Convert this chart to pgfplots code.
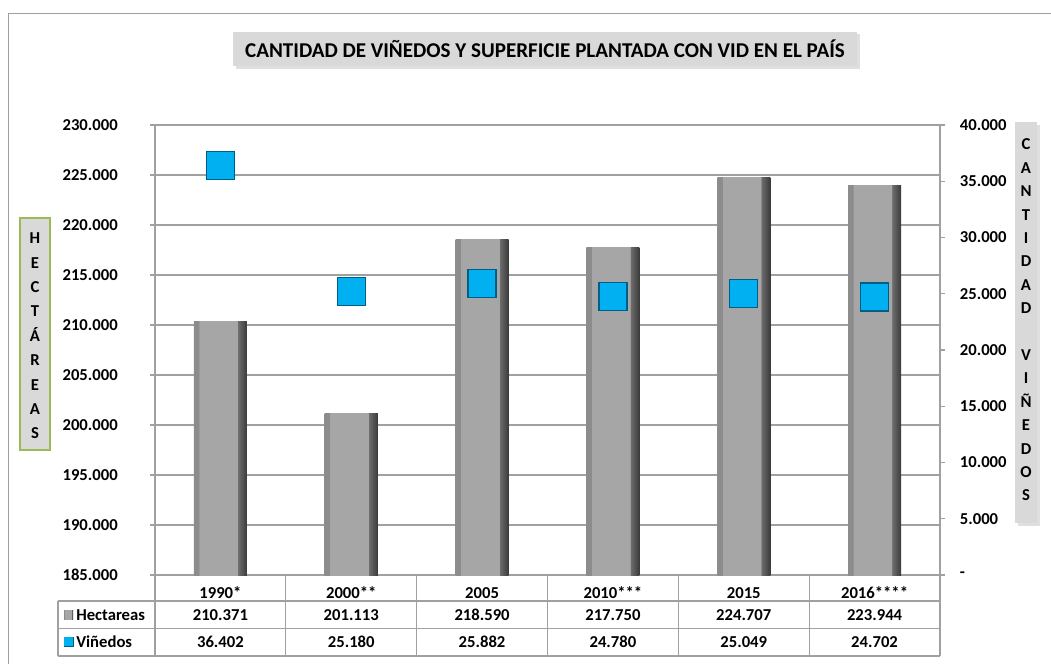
\documentclass[border=0pt]{standalone}
\usepackage{fontspec}
\setmainfont{Carlito}
\usepackage{pgfplots}
\pgfplotsset{compat=1.18}
\usetikzlibrary{shadows}
\definecolor{barL}{HTML}{8C8C8C}
\definecolor{barF}{HTML}{A6A6A6}
\definecolor{barM}{HTML}{6E6E6E}
\definecolor{barD}{HTML}{3A3A3A}
\definecolor{cyanF}{HTML}{00B0F0}
\definecolor{cyanD}{HTML}{005E86}
\definecolor{gridc}{HTML}{A0A0A0}
\definecolor{boxc}{HTML}{D9D9D9}
\definecolor{olivec}{HTML}{9BBB59}
\pgfdeclarehorizontalshading{barbev}{100bp}{color(0bp)=(barL); color(25bp)=(barL); color(29.5bp)=(barL); color(30bp)=(barF); color(66bp)=(barF); color(66.5bp)=(barM); color(75bp)=(barD); color(100bp)=(barD)}
\newcommand\tfont{\fontsize{12.5}{15}\selectfont\bfseries}
\pgfplotsset{barstyle/.style={ybar, bar width=39.75pt, bar shift=0pt, draw=none, mark=none, shade, shading=barbev}}

\begin{document}
\begin{tikzpicture}
\begin{scope}[x=0.75pt,y=-0.75pt]
\useasboundingbox (0,0) rectangle (1051,664);
\draw[gray!75, line width=0.75pt] (8,664) -- (8,13) -- (1051,13);
% title
\node[fill=boxc, drop shadow={opacity=0.25, shadow xshift=2pt, shadow yshift=-2pt}, minimum width=468pt, minimum height=26pt, inner sep=0pt, font=\fontsize{15.8}{18}\selectfont\bfseries] at (545,49) {CANTIDAD DE VIÑEDOS Y SUPERFICIE PLANTADA CON VID EN EL PAÍS};
% left label box
\draw[fill=boxc, draw=olivec, line width=1pt] (20,218) rectangle (50,450);
\node[align=center, inner sep=0pt, font=\fontsize{12.5}{18.3}\selectfont\bfseries] at (35,336) {H\\E\\C\\T\\Á\\R\\E\\A\\S};
% right label box
\fill[boxc, drop shadow={opacity=0.25, shadow xshift=2pt, shadow yshift=-2pt}] (1015,122) rectangle (1037,523);
\node[align=center, inner sep=0pt, font=\fontsize{12.5}{17.55}\selectfont\bfseries] at (1026,320) {C\\A\\N\\T\\I\\D\\A\\D\\~\\V\\I\\Ñ\\E\\D\\O\\S};
% table lines
\begin{scope}[gridc, line width=1pt]
\foreach \xx in {155,285.83,416.67,547.5,678.33,809.17,940} \draw (\xx,575) -- (\xx,656);
\draw (58,601) -- (940,601);
\draw (58,628.5) -- (940,628.5);
\draw (58,656) -- (940,656);
\draw (58,601) -- (58,656);
\end{scope}
% legend column
\shade[shading=barbev] (64,610) rectangle (73,619);
\node[anchor=base west, inner sep=0pt, font=\tfont] at (76,620) {Hectareas};
\fill[cyanF] (64,637) rectangle (73,646);
\draw[cyanD, line width=0.6pt] (73,637) -- (73,646) -- (64,646);
\node[anchor=base west, inner sep=0pt, font=\tfont] at (76,647) {Viñedos};
\end{scope}

\begin{axis}[
  at={(116.25pt,-431.25pt)}, anchor=south west,
  width=588.75pt, height=337.5pt, scale only axis,
  xmin=-0.5, xmax=5.5, ymin=185000, ymax=230000,
  ytick={185000,190000,...,230000},
  scaled y ticks=false,
  y tick label style={/pgf/number format/fixed, /pgf/number format/precision=0, /pgf/number format/1000 sep={.}},
  /pgf/number format/assume math mode=true,
  ytick pos=left, tick align=outside, major tick length=3.75pt,
  xtick={0,...,5},
  xticklabels={1990*,2000**,2005,2010***,2015,2016****},
  xtick style={draw=none},
  ymajorgrids, grid style={gridc, line width=1pt},
  axis line style={gridc, line width=1pt},
  tick style={gridc, line width=1pt},
  ticklabel style={font=\tfont, text=black},
  yticklabel style={anchor=east, inner sep=0pt, xshift=-24pt},
  xticklabel style={anchor=base, inner sep=0pt, yshift=-13.9pt},
  clip mode=individual,
]
\addplot[barstyle] coordinates {(0,210371)};
\addplot[barstyle] coordinates {(1,201113)};
\addplot[barstyle] coordinates {(2,218590)};
\addplot[barstyle] coordinates {(3,217750)};
\addplot[barstyle] coordinates {(4,224707)};
\addplot[barstyle] coordinates {(5,223944)};
\begin{scope}[font=\tfont, inner sep=0pt, anchor=base]
\node at (axis cs:0,180500) {210.371};
\node at (axis cs:1,180500) {201.113};
\node at (axis cs:2,180500) {218.590};
\node at (axis cs:3,180500) {217.750};
\node at (axis cs:4,180500) {224.707};
\node at (axis cs:5,180500) {223.944};
\node at (axis cs:0,177800) {36.402};
\node at (axis cs:1,177800) {25.180};
\node at (axis cs:2,177800) {25.882};
\node at (axis cs:3,177800) {24.780};
\node at (axis cs:4,177800) {25.049};
\node at (axis cs:5,177800) {24.702};
\end{scope}
\end{axis}

\begin{axis}[
  at={(116.25pt,-431.25pt)}, anchor=south west,
  width=588.75pt, height=337.5pt, scale only axis,
  xmin=-0.5, xmax=5.5, ymin=0, ymax=40000,
  axis x line=none, axis y line*=right,
  scaled y ticks=false,
  ytick={0,5000,...,40000},
  yticklabels={-,5.000,10.000,15.000,20.000,25.000,30.000,35.000,40.000},
  tick align=outside, major tick length=3.75pt,
  axis line style={gridc, line width=1pt},
  tick style={gridc, line width=1pt},
  ticklabel style={font=\tfont, text=black},
  yticklabel style={anchor=west, inner sep=0pt, xshift=11pt},
  clip=false,
]
\addplot[only marks, mark=square*, mark size=10.5pt, mark options={fill=cyanF, draw=cyanD, line width=1pt}] coordinates {(0,36402) (1,25180) (2,25882) (3,24780) (4,25049) (5,24702)};
\end{axis}
\end{tikzpicture}
\end{document}
